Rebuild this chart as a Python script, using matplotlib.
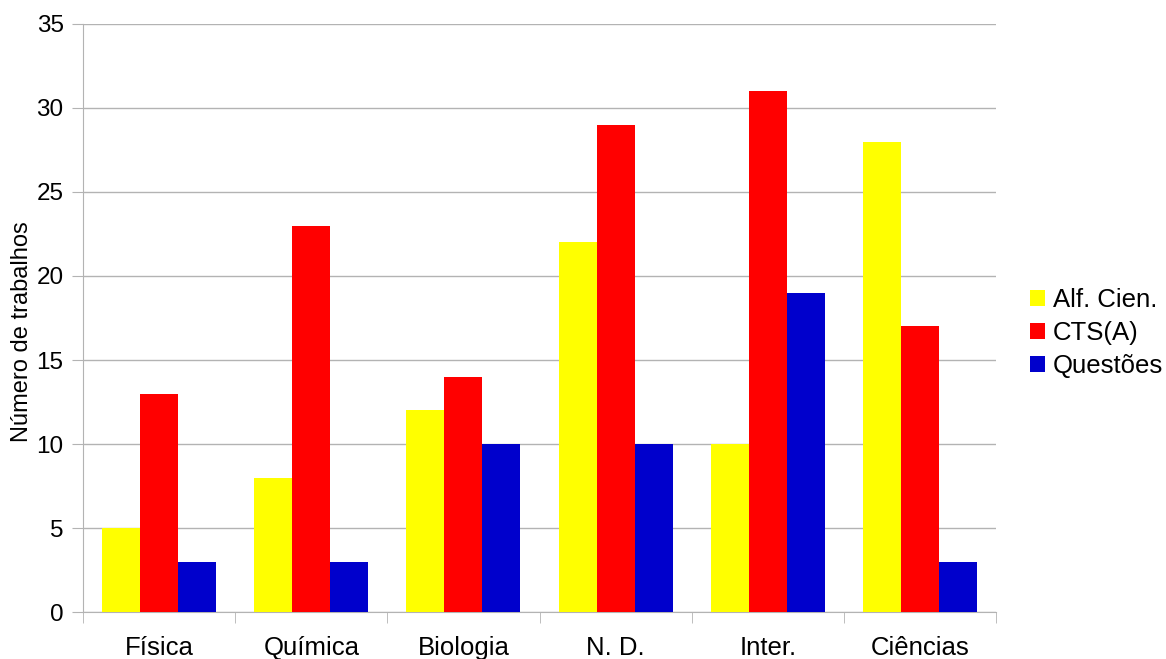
import numpy as np
import matplotlib.pyplot as plt

plt.rcParams['font.family'] = ['Liberation Sans', 'DejaVu Sans']

categories = ['Física', 'Química', 'Biologia', 'N. D.', 'Inter.', 'Ciências']
alf_cien = [5, 8, 12, 22, 10, 28]
cts_a = [13, 23, 14, 29, 31, 17]
questoes = [3, 3, 10, 10, 19, 3]
series_names = ['Alf. Cien.', 'CTS(A)', 'Questões']
colors = ['#ffff00', '#ff0000', '#0000cc']

fig = plt.figure(figsize=(11.66, 6.59), dpi=100)
ax = fig.add_axes([0.0712, 0.0713, 0.783, 0.8923])

x = np.arange(len(categories))
w = 0.25
for i, (vals, name, c) in enumerate(zip([alf_cien, cts_a, questoes], series_names, colors)):
    ax.bar(x + (i - 1) * w, vals, w, color=c, label=name, zorder=3)

ax.set_xlim(-0.5, len(categories) - 0.5)
ax.set_ylim(0, 35)
ax.set_yticks(range(0, 36, 5))
ax.set_xticks(x)
ax.set_xticklabels(categories, fontsize=18.5)
ax.set_xticks(np.arange(-0.5, len(categories)), minor=True)
ax.tick_params(axis='x', which='major', length=0, pad=17)
ax.tick_params(axis='x', which='minor', length=8, color='#b3b3b3')
ax.tick_params(axis='y', length=8, color='#b3b3b3', labelsize=17.5, pad=6)
ax.yaxis.grid(True, color='#b3b3b3', linewidth=1, zorder=0)
for s in ['top', 'right']:
    ax.spines[s].set_visible(False)
for s in ['left', 'bottom']:
    ax.spines[s].set_color('#b3b3b3')

# y label sits a little below the axis centre in the original
fig.text(22 / 1166, 1 - 332 / 659, 'Número de trabalhos', fontsize=17,
         rotation=90, ha='center', va='center')

fig.legend(loc='center left', bbox_to_anchor=(0.8834, 0.494), frameon=False,
           fontsize=18.5, handlelength=0.58, handleheight=0.58, handletextpad=0.3,
           labelspacing=0.35, borderaxespad=0, borderpad=0)

fig.savefig('out.png', dpi=100)
